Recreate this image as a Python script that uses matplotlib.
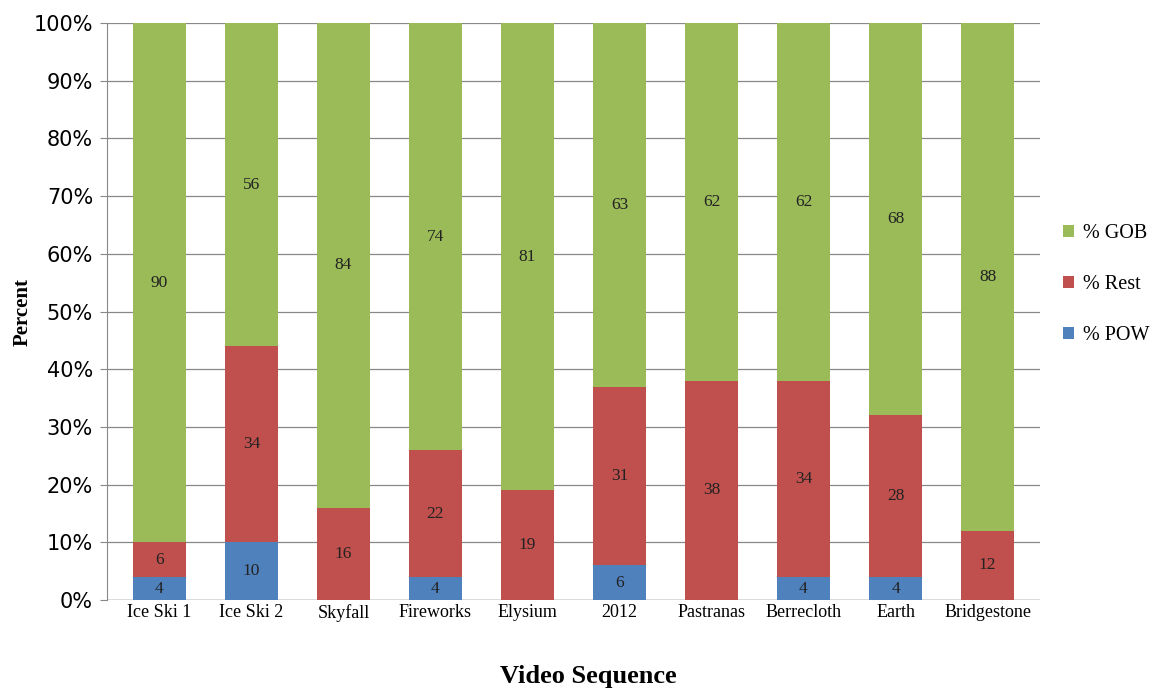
import numpy as np
import matplotlib.pyplot as plt

# share of each frame type per video sequence
sequences = ['Ice Ski 1', 'Ice Ski 2', 'Skyfall', 'Fireworks', 'Elysium',
             '2012', 'Pastranas', 'Berrecloth', 'Earth', 'Bridgestone']
pow_pct = [4, 10, 0, 4, 0, 6, 0, 4, 4, 0]
rest_pct = [6, 34, 16, 22, 19, 31, 38, 34, 28, 12]
gob_pct = [90, 56, 84, 74, 81, 63, 62, 62, 68, 88]

series = [('% POW', pow_pct, '#4F81BD'),
          ('% Rest', rest_pct, '#C0504D'),
          ('% GOB', gob_pct, '#9BBB59')]

fig = plt.figure(figsize=(11.62, 6.97), dpi=100)
ax = fig.add_axes([0.092, 0.139, 0.803, 0.828])

x = np.arange(len(sequences))
bottom = np.zeros(len(sequences))
handles = []
for name, vals, col in series:
    vals = np.array(vals, dtype=float)
    bars = ax.bar(x, vals, 0.58, bottom=bottom, color=col, label=name, zorder=2)
    handles.append(bars)
    for xi, b, v in zip(x, bottom, vals):
        if v > 0:
            ax.text(xi, b + v / 2, f'{v:.0f}', ha='center', va='center',
                    fontsize=12.5, family='Liberation Serif', color='#222222', zorder=3)
    bottom += vals

ax.set_xlim(-0.57, len(sequences) - 0.43)
ax.set_ylim(0, 100)
ax.set_yticks(np.arange(0, 101, 10))
ax.set_yticklabels([f'{t}%' for t in range(0, 101, 10)], fontsize=15, family='DejaVu Sans')
ax.set_xticks(x)
ax.set_xticklabels(sequences, fontsize=13, family='Liberation Serif')
ax.tick_params(axis='x', length=0, pad=3)
ax.tick_params(axis='y', length=5, color='#888888', pad=5)
ax.grid(axis='y', color='#888888', linewidth=0.9, zorder=0)
for s in ['top', 'right', 'bottom']:
    ax.spines[s].set_visible(False)
ax.spines['left'].set_color('#888888')
ax.axhline(0, color='#888888', linewidth=1, zorder=1)

ax.set_ylabel('Percent', fontsize=15, fontweight='bold', family='Liberation Serif', labelpad=1)
fig.text(0.506, 0.02, 'Video Sequence', ha='center', fontsize=19,
         fontweight='bold', family='Liberation Serif')

leg = ax.legend(handles[::-1], [s[0] for s in series][::-1], loc='center left',
                bbox_to_anchor=(1.005, 0.547), frameon=False, handlelength=0.55,
                handleheight=0.55, handletextpad=0.45, labelspacing=1.6,
                prop={'family': 'Liberation Serif', 'size': 14.5})

fig.savefig('out.png', dpi=100)
